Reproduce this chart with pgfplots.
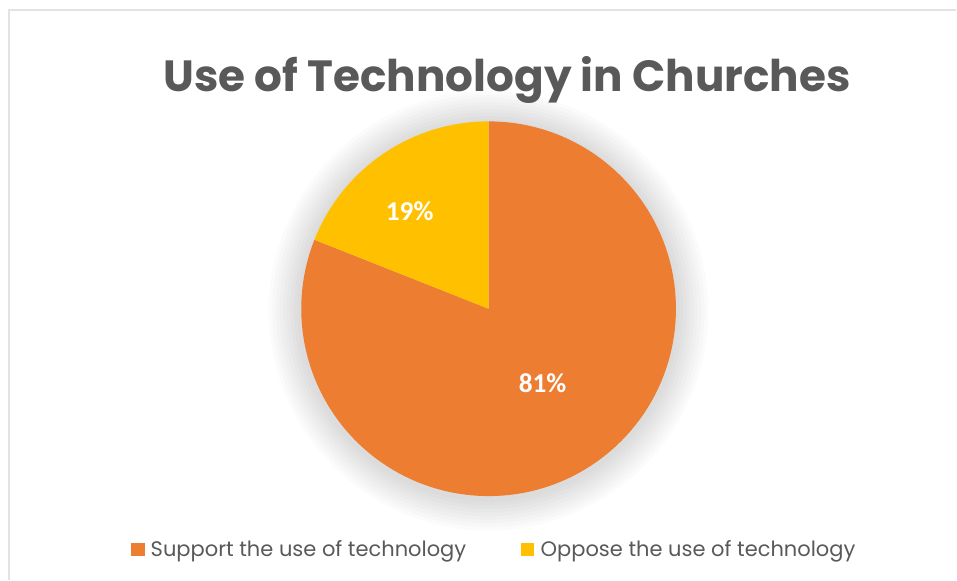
\documentclass[border=0pt]{standalone}
\usepackage{pgfplots}
\pgfplotsset{compat=1.18}
\usepackage{pgfplotstable}
\usepackage{fontspec}
\setmainfont{Poppins}
\newfontfamily\carlito{Carlito}
\definecolor{supp}{HTML}{ED7D31}
\definecolor{opp}{HTML}{FFC000}
\definecolor{txt}{HTML}{595959}
\definecolor{framec}{HTML}{E3E3E3}

\pgfplotstableread{
label value
Support 81
Oppose 19
}\piedata

\begin{document}
\begin{tikzpicture}
\pgfplotstablegetelem{0}{value}\of\piedata \pgfmathtruncatemacro\va{\pgfplotsretval}
\pgfplotstablegetelem{1}{value}\of\piedata \pgfmathtruncatemacro\vb{\pgfplotsretval}
\pgfmathsetmacro\angA{90-3.6*\va}
\pgfmathsetmacro\angB{\angA+360}
\begin{axis}[
 scale only axis, width=717.75pt, height=435pt,
 xmin=0, xmax=957, ymin=0, ymax=580,
 hide axis, clip=false,
 legend columns=2,
 legend style={draw=none, fill=none, at={(axis cs:131,30.5)}, anchor=west,
   font=\fontsize{15.75}{18}\selectfont, text=txt, inner sep=0pt, outer sep=0pt,
   nodes={inner sep=0pt},
   /tikz/every odd column/.append style={column sep=5pt},
   /tikz/every even column/.append style={column sep=41pt}},
 legend cell align=left,
]
\path (axis cs:0,0) rectangle (axis cs:957,580);
\draw[framec, line width=1.2pt] (axis cs:9,0) -- (axis cs:9,570) -- (axis cs:957,570);
\pgfplotsinvokeforeach{1,...,9}{
  \fill[black, opacity=0.015] (axis cs:489,269) circle[radius={(187.5+#1*3.6)*0.75pt}];
}
\fill[supp] (axis cs:489,271) -- ++(90:140.625pt) arc[start angle=90, end angle=\angA, radius=140.625pt] -- cycle;
\fill[opp] (axis cs:489,271) -- ++(\angB:140.625pt) arc[start angle=\angB, end angle=90, radius=140.625pt] -- cycle;
\node[white, font=\carlito\bfseries\fontsize{20.5}{24}\selectfont] at (axis cs:410,369) {\vb\%};
\node[white, font=\carlito\bfseries\fontsize{20.5}{24}\selectfont] at (axis cs:543,196) {\va\%};
\node[text=txt, font=\bfseries\fontsize{32.8}{38}\selectfont, anchor=base] at (axis cs:507.5,488) {Use of Technology in Churches};
\addlegendimage{legend image code/.code={\fill[supp] (0pt,-4.5pt) rectangle (9.5pt,4pt);}}
\addlegendentry{Support the use of technology}
\addlegendimage{legend image code/.code={\fill[opp] (0pt,-4.5pt) rectangle (9.5pt,4pt);}}
\addlegendentry{Oppose the use of technology}
\end{axis}
\end{tikzpicture}
\end{document}
